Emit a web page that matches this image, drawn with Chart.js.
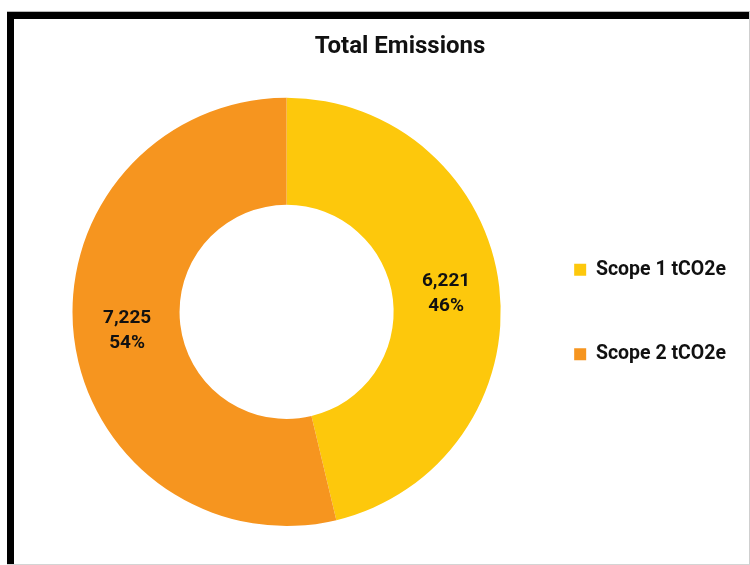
<!DOCTYPE html>
<html lang="en">
<head>
    <meta charset="UTF-8">
    <title>Total Emissions</title>
    <script src="https://cdn.jsdelivr.net/npm/chart.js"></script>
    <style>
        html, body { margin: 0; padding: 0; background: #fff; }
        #wrap { position: relative; width: 750px; height: 565px; overflow: hidden; }
        #emissionsChart { position: absolute; left: 0; top: 0; }
        .edge { position: absolute; box-sizing: border-box; pointer-events: none; }
        #edgeGrey { left: 7px; top: 11px; width: 743px; height: 554px;
            border-top: 1px solid #b8b8b8; border-right: 1px solid #cfcfcf; border-bottom: 1px solid #d4d4d4; }
        #edgeBlack { left: 7px; top: 12px; width: 742px; height: 552px;
            border-top: 7px solid #000; border-left: 7px solid #000; }
    </style>
</head>
<body>
    <div id="wrap">
        <canvas id="emissionsChart" width="750" height="565"></canvas>
        <div class="edge" id="edgeGrey"></div>
        <div class="edge" id="edgeBlack"></div>
    </div>

    <script>
        const scopeLabels = ['Scope 1 tCO2e', 'Scope 2 tCO2e'];
        const scopeValues = [6221, 7225];
        const scopeColors = ['#FDC80C', '#F6951F'];

        const total = scopeValues.reduce((a, b) => a + b, 0);

        // value + share written in the middle of each ring segment
        const sliceLabels = {
            id: 'sliceLabels',
            afterDatasetsDraw(chart) {
                const ctx = chart.ctx;
                const meta = chart.getDatasetMeta(0);
                ctx.save();
                ctx.font = 'bold 19px Roboto';
                ctx.fillStyle = '#111';
                ctx.textAlign = 'center';
                ctx.textBaseline = 'middle';
                meta.data.forEach((arc, i) => {
                    const p = arc.tooltipPosition();
                    const v = scopeValues[i];
                    const pct = Math.round(v / total * 100) + '%';
                    ctx.fillText(v.toLocaleString('en-US'), p.x, p.y - 12);
                    ctx.fillText(pct, p.x, p.y + 13);
                });
                ctx.restore();
            }
        };

        const chart = new Chart(document.getElementById('emissionsChart'), {
            type: 'doughnut',
            data: {
                labels: scopeLabels,
                datasets: [{
                    data: scopeValues,
                    backgroundColor: scopeColors,
                    borderWidth: 0
                }]
            },
            options: {
                responsive: false,
                animation: false,
                cutout: '50%',
                layout: { padding: { left: 64, right: 14, top: 0, bottom: 39 } },
                plugins: {
                    title: {
                        display: true,
                        text: 'Total Emissions',
                        color: '#111',
                        font: { family: 'Roboto', size: 24, weight: 'bold' },
                        padding: { top: 33, bottom: 36 }
                    },
                    legend: {
                        position: 'right',
                        fullSize: false,
                        labels: {
                            boxWidth: 12,
                            boxHeight: 12,
                            padding: 65,
                            color: '#111',
                            font: { family: 'Roboto', size: 19.5, weight: 'bold' }
                        }
                    },
                    tooltip: { enabled: false }
                }
            },
            plugins: [sliceLabels]
        });
    </script>
</body>
</html>
